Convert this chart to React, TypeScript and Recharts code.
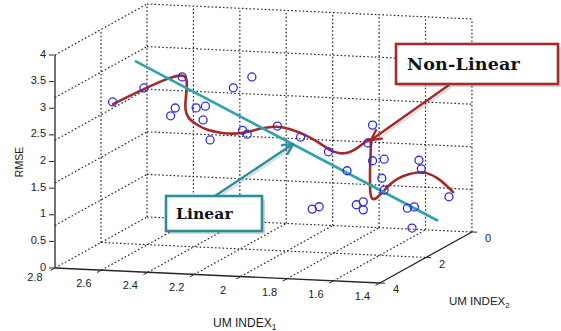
import React from 'react';
import {
  ComposedChart,
  XAxis,
  YAxis,
  Scatter,
  Line,
  ReferenceLine,
  ReferenceDot,
} from 'recharts';

// ---------------- DATA ----------------
// Scatter observations: UM INDEX1, UM INDEX2, RMSE
const umIndex1 = [
  2.75, 2.615, 2.45, 2.48, 2.5, 2.39, 2.35, 2.36, 2.33, 2.23, 2.15, 2.19, 2.17, 2.04, 1.94, 1.82, 1.63,
  1.65, 1.63, 1.58, 1.43, 1.42, 1.74, 1.59, 1.58, 1.89, 1.86, 1.7, 1.67, 1.67, 1.48, 1.45, 1.4, 1.46,
];
const umIndex2 = [
  2, 2, 2, 2, 2, 2, 2, 2, 2, 2, 2, 2, 2, 2, 2, 2, 2,
  2, 2, 2, 2, 2, 2, 2, 2, 2, 2, 2, 2, 2, 2, 2, 1, 2,
];
const rmse = [
  2.65, 2.94, 3.18, 2.59, 2.44, 2.61, 2.65, 2.39, 2.02, 3.02, 3.24, 2.23, 2.16, 2.34, 2.15, 1.9, 2.44,
  2.1, 1.77, 1.81, 1.82, 1.66, 1.56, 1.45, 1.23, 0.81, 0.86, 0.93, 0.99, 0.84, 0.91, 0.94, 0.9, 0.54,
];

// Non-linear fit curve (drawn in the UM INDEX2 = 2 plane)
const nonLinearDepth = 2;
const nonLinearUm1 = [
  2.748, 2.684, 2.615, 2.546, 2.494, 2.455, 2.438, 2.43, 2.43, 2.434, 2.438, 2.434, 2.417, 2.386, 2.343,
  2.287, 2.223, 2.167, 2.106, 2.042, 1.986, 1.921, 1.865, 1.813, 1.77, 1.727, 1.688, 1.654, 1.637, 1.637,
  1.641, 1.641, 1.641, 1.632, 1.615, 1.585, 1.555, 1.52, 1.477, 1.434, 1.391, 1.348, 1.314, 1.283,
];
const nonLinearRmse = [
  2.61, 2.76, 2.92, 3.07, 3.17, 3.21, 3.2, 3.13, 2.98, 2.81, 2.64, 2.49, 2.38, 2.29, 2.2,
  2.16, 2.15, 2.2, 2.29, 2.34, 2.3, 2.2, 2.08, 1.92, 1.87, 1.9, 2.02, 2.14, 2.2, 1.97,
  1.69, 1.41, 1.16, 1.03, 1.06, 1.19, 1.35, 1.47, 1.55, 1.6, 1.59, 1.5, 1.38, 1.25,
];

// Linear fit line (UM INDEX2 = 2 plane)
const linearDepth = 2;
const linearUm1 = [2.654, 1.348];
const linearRmse = [3.44, 0.7];

// Axis ticks
const um1Ticks = [2.8, 2.6, 2.4, 2.2, 2, 1.8, 1.6, 1.4];
const um1TickLabels = ['2.8', '2.6', '2.4', '2.2', '2', '1.8', '1.6', '1.4'];
const um2Ticks = [0, 2, 4];
const um2TickLabels = ['0', '2', '4'];
const rmseTicks = [0, 0.5, 1, 1.5, 2, 2.5, 3, 3.5, 4];
const rmseTickLabels = ['0', '0.5', '1', '1.5', '2', '2.5', '3', '3.5', '4'];
const rmseGridLevels = [0.8, 1.6, 2.4, 3.2, 4];

// ---------------- LAYOUT ----------------
const W = 561;
const H = 331;
const U1MAX = 2.8;
const U1MIN = 1.4;
const U2MIN = 0;
const U2MAX = 4;
const ZMAX = 4;
const PROJ = { x0: 55, y0: 268, ax: 232.1, ay: 10.7, bx: 23, by: 12.75, cz: 53.25 };

type Pt = { x: number; y: number };
function proj(u1: number, u2: number, z: number): Pt {
  const a = U1MAX - u1;
  const b = U2MAX - u2;
  return {
    x: PROJ.x0 + a * PROJ.ax + b * PROJ.bx,
    y: PROJ.y0 + a * PROJ.ay - b * PROJ.by - z * PROJ.cz,
  };
}

const C = {
  axis: '#262626',
  grid: '#2a2a2a',
  point: '#2e2ee0',
  red: '#a12c2c',
  teal: '#2fa1b1',
  tealBox: '#2b8f9e',
  text: '#222222',
};
const SANS = '"Liberation Sans", Arial, sans-serif';
const SERIF = '"DejaVu Serif", serif';

type Seg = [Pt, Pt];
const gridSegs: Seg[] = [];
um1Ticks.filter((u) => u !== U1MIN).forEach((u) => gridSegs.push([proj(u, U2MAX, 0), proj(u, U2MIN, 0)]));
um2Ticks.filter((v) => v !== U2MAX).forEach((v) => gridSegs.push([proj(U1MAX, v, 0), proj(U1MIN, v, 0)]));
rmseGridLevels.forEach((z) => gridSegs.push([proj(U1MAX, U2MAX, z), proj(U1MAX, U2MIN, z)]));
um2Ticks.filter((v) => v !== U2MAX).forEach((v) => gridSegs.push([proj(U1MAX, v, 0), proj(U1MAX, v, ZMAX)]));
rmseGridLevels.forEach((z) => gridSegs.push([proj(U1MAX, U2MIN, z), proj(U1MIN, U2MIN, z)]));
um1Ticks.filter((u) => u !== U1MAX).forEach((u) => gridSegs.push([proj(u, U2MIN, 0), proj(u, U2MIN, ZMAX)]));

const axisSegs: Seg[] = [
  [proj(U1MAX, U2MAX, 0), proj(U1MAX, U2MAX, ZMAX)],
  [proj(U1MAX, U2MAX, 0), proj(U1MIN, U2MAX, 0)],
  [proj(U1MIN, U2MAX, 0), proj(U1MIN, U2MIN, 0)],
];

const tickSegs: Seg[] = [];
rmseTicks.forEach((z) => {
  const p = proj(U1MAX, U2MAX, z);
  tickSegs.push([{ x: p.x - 6, y: p.y }, { x: p.x - 1, y: p.y }]);
});
um1Ticks.forEach((u) => {
  const p = proj(u, U2MAX, 0);
  tickSegs.push([p, { x: p.x - 4.4, y: p.y + 2.4 }]);
});
um2Ticks.forEach((v) => {
  const p = proj(U1MIN, v, 0);
  tickSegs.push([p, { x: p.x + 5, y: p.y + 0.2 }]);
});

const scatterData = umIndex1.map((u, i) => proj(u, umIndex2[i], rmse[i]));
const nonLinearData = nonLinearUm1.map((u, i) => proj(u, nonLinearDepth, nonLinearRmse[i]));
const linearData = linearUm1.map((u, i) => proj(u, linearDepth, linearRmse[i]));

// Callout annotations (anchored at the box's top-left corner; everything else relative to it)
const callouts = [
  {
    text: 'Non-Linear',
    color: C.red,
    anchor: { x: 396, y: 44 },
    w: 162,
    h: 40,
    textDx: 11,
    fontSize: 17.5,
    spacing: 0.2,
    from: { dx: 53, dy: 41 },
    to: { dx: -25, dy: 96 },
  },
  {
    text: 'Linear',
    color: C.tealBox,
    anchor: { x: 166, y: 196 },
    w: 96,
    h: 35,
    textDx: 10,
    fontSize: 15.5,
    spacing: 0.1,
    from: { dx: 49, dy: 0 },
    to: { dx: 127, dy: -52 },
  },
];

function wings(from: Pt, to: Pt, len = 11, angDeg = 28): Pt[] {
  const dx = from.x - to.x;
  const dy = from.y - to.y;
  const L = Math.hypot(dx, dy);
  const ux = dx / L;
  const uy = dy / L;
  const r = (angDeg * Math.PI) / 180;
  return [1, -1].map((s) => ({
    x: to.x + len * (ux * Math.cos(s * r) - uy * Math.sin(s * r)),
    y: to.y + len * (ux * Math.sin(s * r) + uy * Math.cos(s * r)),
  }));
}

type TextOpts = {
  anchor?: 'start' | 'middle' | 'end';
  size?: number;
  family?: string;
  color?: string;
  rotate?: number;
  weight?: string | number;
  spacing?: number;
  sub?: string;
};
function textLabel(value: string, o: TextOpts) {
  return {
    content: (props: any) => {
      const vb = props.viewBox || {};
      const x = (vb.x ?? 0) + (vb.width ?? 0) / 2;
      const y = (vb.y ?? 0) + (vb.height ?? 0) / 2;
      return (
        <text
          x={x}
          y={y}
          dominantBaseline="central"
          textAnchor={o.anchor ?? 'middle'}
          fontSize={o.size ?? 11}
          fontFamily={o.family ?? SANS}
          fill={o.color ?? C.text}
          fontWeight={o.weight ?? 'normal'}
          letterSpacing={o.spacing ?? 0}
          transform={o.rotate ? `rotate(${o.rotate},${x},${y})` : undefined}
        >
          {value}
          {o.sub ? (
            <tspan dy={4} fontSize={(o.size ?? 11) * 0.7}>
              {o.sub}
            </tspan>
          ) : null}
        </text>
      );
    },
  };
}

function TextAt(key: string, p: Pt, value: string, o: TextOpts) {
  return (
    <ReferenceDot
      key={key}
      x={p.x}
      y={p.y}
      r={0}
      fill="none"
      stroke="none"
      ifOverflow="visible"
      label={textLabel(value, o)}
    />
  );
}

function calloutLabel(c: (typeof callouts)[number]) {
  return {
    content: (props: any) => {
      const vb = props.viewBox || {};
      const x0 = (vb.x ?? 0) + (vb.width ?? 0) / 2;
      const y0 = (vb.y ?? 0) + (vb.height ?? 0) / 2;
      const from = { x: x0 + c.from.dx, y: y0 + c.from.dy };
      const to = { x: x0 + c.to.dx, y: y0 + c.to.dy };
      const wg = wings(from, to);
      return (
        <g>
          <rect x={x0 + 3} y={y0 + 3} width={c.w} height={c.h} fill="#000" fillOpacity={0.16} />
          <line x1={from.x + 2} y1={from.y + 2} x2={to.x + 2} y2={to.y + 2} stroke="#000" strokeOpacity={0.12} strokeWidth={2.4} />
          <rect x={x0} y={y0} width={c.w} height={c.h} fill="#fff" stroke={c.color} strokeWidth={2.6} />
          <text
            x={x0 + c.textDx}
            y={y0 + c.h / 2}
            dominantBaseline="central"
            fontFamily={SERIF}
            fontWeight="bold"
            fontSize={c.fontSize}
            letterSpacing={c.spacing}
            fill="#111"
          >
            {c.text}
          </text>
          <line x1={from.x} y1={from.y} x2={to.x} y2={to.y} stroke={c.color} strokeWidth={2.4} />
          {wg.map((p, k) => (
            <line key={k} x1={to.x} y1={to.y} x2={p.x} y2={p.y} stroke={c.color} strokeWidth={2.4} strokeLinecap="round" />
          ))}
        </g>
      );
    },
  };
}

export default function App() {
  const labels: React.ReactNode[] = [];
  rmseTicks.forEach((z, i) => {
    const p = proj(U1MAX, U2MAX, z);
    labels.push(TextAt(`zl${i}`, { x: p.x - 9, y: p.y - 1.5 }, rmseTickLabels[i], { anchor: 'end' }));
  });
  um1Ticks.forEach((u, i) => {
    const p = proj(u, U2MAX, 0);
    const off = i === 0 ? { x: -20, y: 9 } : { x: -17.5, y: 13 };
    labels.push(TextAt(`u1l${i}`, { x: p.x + off.x, y: p.y + off.y }, um1TickLabels[i], {}));
  });
  um2Ticks.forEach((v, i) => {
    const p = proj(U1MIN, v, 0);
    labels.push(TextAt(`u2l${i}`, { x: p.x + 16, y: p.y + 6.5 }, um2TickLabels[i], {}));
  });

  const extra: any = { zIndex: 1800 };

  return (
    <div style={{ width: W, height: H, background: '#fff' }}>
      <style>{'body{margin:0;background:#fff}'}</style>
      <ComposedChart width={W} height={H} margin={{ top: 0, right: 0, bottom: 0, left: 0 }} style={{ overflow: 'visible' }}>
        <XAxis dataKey="x" type="number" domain={[0, W]} allowDataOverflow hide />
        <YAxis dataKey="y" type="number" domain={[0, H]} allowDataOverflow reversed hide />

        {gridSegs.map((s, i) => (
          <ReferenceLine
            key={`g${i}`}
            segment={s}
            stroke={C.grid}
            strokeWidth={1.2}
            strokeDasharray="1.6 2.2"
            ifOverflow="visible"
          />
        ))}
        {axisSegs.map((s, i) => (
          <ReferenceLine key={`a${i}`} segment={s} stroke={C.axis} strokeWidth={1.3} ifOverflow="visible" />
        ))}
        {tickSegs.map((s, i) => (
          <ReferenceLine key={`t${i}`} segment={s} stroke={C.axis} strokeWidth={1} ifOverflow="visible" />
        ))}

        <Scatter
          data={scatterData}
          dataKey="y"
          isAnimationActive={false}
          shape={(props: any) => (
            <circle cx={props.cx} cy={props.cy} r={4} fill="none" stroke={C.point} strokeWidth={1.3} />
          )}
        />

        <Line
          data={nonLinearData}
          dataKey="y"
          type="basis"
          stroke={C.red}
          strokeWidth={2.6}
          strokeLinecap="round"
          dot={false}
          activeDot={false}
          isAnimationActive={false}
        />
        <Line
          data={linearData}
          dataKey="y"
          type="linear"
          stroke={C.teal}
          strokeWidth={2.6}
          dot={false}
          activeDot={false}
          isAnimationActive={false}
        />

        {labels}

        {TextAt('zlab', { x: 19, y: 162 }, 'RMSE', { rotate: -90, size: 10.5 })}
        {TextAt('u1lab', { x: 213, y: 323 }, 'UM INDEX', { anchor: 'start', size: 12, sub: '1' })}
        {TextAt('u2lab', { x: 449, y: 301 }, 'UM INDEX', { anchor: 'start', size: 11.5, sub: '2' })}

        {callouts.map((c, i) => (
          <ReferenceDot
            key={`co${i}`}
            x={c.anchor.x}
            y={c.anchor.y}
            r={0}
            fill="none"
            stroke="none"
            ifOverflow="visible"
            isFront
            {...extra}
            label={calloutLabel(c)}
          />
        ))}
      </ComposedChart>
    </div>
  );
}
